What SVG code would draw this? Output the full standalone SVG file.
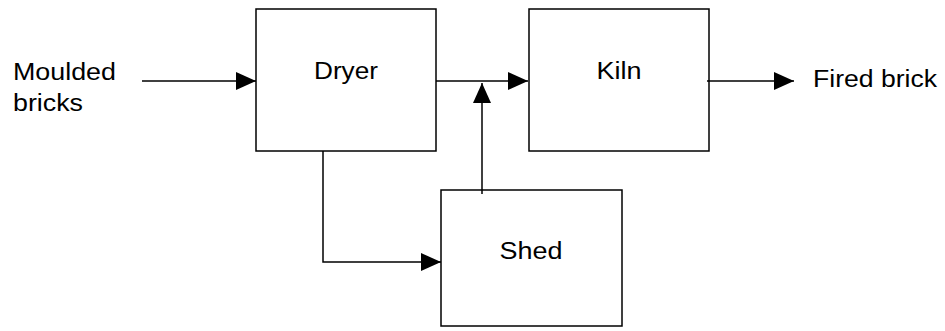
<svg xmlns="http://www.w3.org/2000/svg" width="945" height="331" viewBox="0 0 945 331">
  <style>
    .box { fill: #ffffff; stroke: #000000; stroke-width: 1.5; }
    .lbl { font-family: "Liberation Sans", Arial, sans-serif; font-size: 23.5px; fill: #000000; }
    .mid { text-anchor: middle; }
    .conn { fill: none; stroke: #000000; stroke-width: 1.5; marker-end: url(#arrow); }
  </style>
  <defs>
    <marker id="arrow" markerUnits="userSpaceOnUse" markerWidth="20" markerHeight="18" refX="20" refY="9" orient="auto">
      <path d="M0,0 L20,9 L0,18 Z" fill="#000000"/>
    </marker>
  </defs>
  <rect width="945" height="331" fill="#ffffff"/>

  <g id="dryer">
    <rect class="box" x="256" y="9" width="180" height="142"/>
    <text class="lbl mid" x="346" y="79" textLength="64" lengthAdjust="spacingAndGlyphs">Dryer</text>
  </g>
  <g id="kiln">
    <rect class="box" x="529" y="9" width="180" height="142"/>
    <text class="lbl mid" x="619" y="79" textLength="45" lengthAdjust="spacingAndGlyphs">Kiln</text>
  </g>
  <g id="shed">
    <rect class="box" x="441" y="190" width="181" height="136"/>
    <text class="lbl mid" x="531" y="259" textLength="63" lengthAdjust="spacingAndGlyphs">Shed</text>
  </g>
  <g id="input">
    <text class="lbl" x="13" y="80" textLength="103" lengthAdjust="spacingAndGlyphs">Moulded</text>
    <text class="lbl" x="13" y="111" textLength="70" lengthAdjust="spacingAndGlyphs">bricks</text>
  </g>
  <g id="output">
    <text class="lbl" x="813" y="87" textLength="124" lengthAdjust="spacingAndGlyphs">Fired brick</text>
  </g>

  <g id="connectors">
    <path class="conn" d="M142,81 H256"/>
    <path class="conn" d="M436,81 H528"/>
    <path class="conn" d="M707,81 H794"/>
    <path class="conn" d="M323,151 V262 H441"/>
    <path class="conn" d="M482,194 V83"/>
  </g>
</svg>
